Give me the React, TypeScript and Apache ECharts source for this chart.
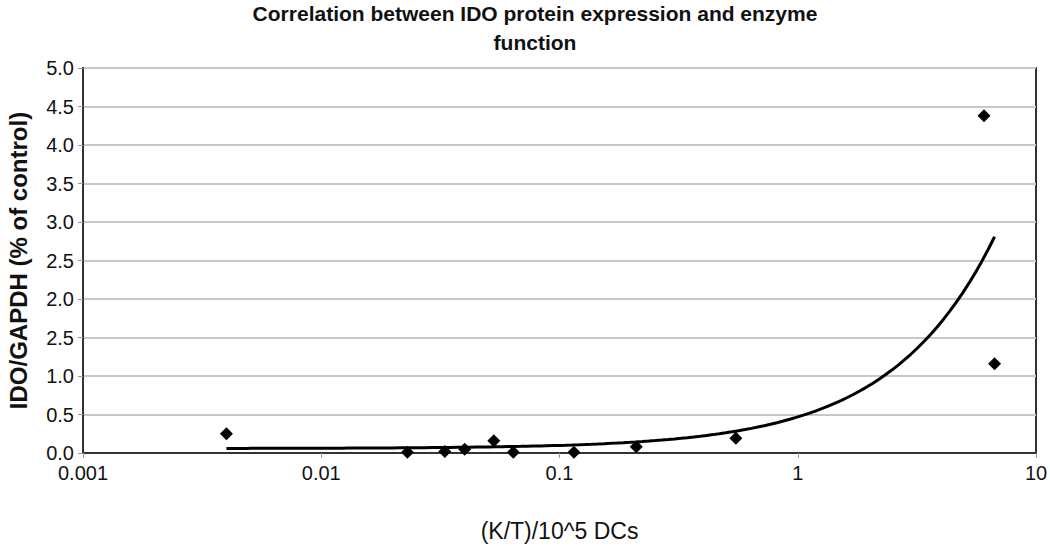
import React, { useEffect, useRef } from "react";
import * as echarts from "echarts";

const titleText = "Correlation between IDO protein expression and enzyme\nfunction";
const xAxisName = "(K/T)/10^5 DCs";
const yAxisName = "IDO/GAPDH (% of control)";

// measured points: x = (K/T)/10^5 DCs, y = IDO/GAPDH
const xValues = [0.004, 0.023, 0.033, 0.04, 0.053, 0.064, 0.115, 0.21, 0.55, 6.05, 6.7];
const yValues = [0.25, 0.01, 0.02, 0.05, 0.16, 0.01, 0.01, 0.08, 0.19, 4.38, 1.16];

const xTickLabels = ["0.001", "0.01", "0.1", "1", "10"];
// as printed in the original (the 1.5 tick reads "2.5")
const yTickLabels = ["0.0", "0.5", "1.0", "2.5", "2.0", "2.5", "3.0", "3.5", "4.0", "4.5", "5.0"];

const FONT = "'Liberation Sans', Arial, Helvetica, sans-serif";

function linearFit(xs: number[], ys: number[]) {
  const n = xs.length;
  const mx = xs.reduce((a, b) => a + b, 0) / n;
  const my = ys.reduce((a, b) => a + b, 0) / n;
  let sxy = 0;
  let sxx = 0;
  for (let i = 0; i < n; i++) {
    sxy += (xs[i] - mx) * (ys[i] - my);
    sxx += (xs[i] - mx) * (xs[i] - mx);
  }
  const slope = sxy / sxx;
  return { slope, intercept: my - slope * mx };
}

export default function App() {
  const ref = useRef<HTMLDivElement>(null);

  useEffect(() => {
    if (!ref.current) return;
    const chart = echarts.init(ref.current, undefined, { renderer: "svg" });

    const { slope, intercept } = linearFit(xValues, yValues);
    const xMin = Math.min(...xValues);
    const xMax = Math.max(...xValues);
    const steps = 120;
    const trend: number[][] = [];
    const lMin = Math.log10(xMin);
    const lMax = Math.log10(xMax);
    for (let i = 0; i <= steps; i++) {
      const x = Math.pow(10, lMin + ((lMax - lMin) * i) / steps);
      trend.push([x, intercept + slope * x]);
    }

    chart.setOption({
      animation: false,
      backgroundColor: "#ffffff",
      title: {
        text: titleText,
        left: 530,
        textAlign: "center",
        top: -6,
        textStyle: {
          fontFamily: FONT,
          fontSize: 21,
          fontWeight: "bold",
          color: "#111111",
          lineHeight: 29,
        },
      },
      grid: {
        left: 83,
        right: 14,
        top: 68,
        bottom: 93,
        show: true,
        borderColor: "#333333",
        borderWidth: 2,
        containLabel: false,
        outerBoundsMode: "none",
      },
      xAxis: {
        type: "log",
        logBase: 10,
        min: 0.001,
        max: 10,
        name: xAxisName,
        nameLocation: "middle",
        nameGap: 66,
        nameTextStyle: {
          fontFamily: FONT,
          fontSize: 23,
          color: "#111111",
          verticalAlign: "top",
        },
        axisLine: { show: true, lineStyle: { color: "#333333", width: 2 } },
        axisTick: { show: true, length: 5, lineStyle: { color: "#999999" } },
        minorTick: { show: false },
        splitLine: { show: false },
        axisLabel: {
          fontFamily: FONT,
          fontSize: 20,
          color: "#111111",
          margin: 10,
          formatter: (v: number) => {
            const idx = Math.round(Math.log10(v)) + 3;
            return xTickLabels[idx] ?? "";
          },
        },
      },
      yAxis: {
        type: "value",
        min: 0,
        max: 5,
        interval: 0.5,
        name: yAxisName,
        nameLocation: "middle",
        nameRotate: 90,
        nameGap: 53,
        nameTextStyle: {
          fontFamily: FONT,
          fontSize: 24,
          fontWeight: "bold",
          color: "#111111",
        },
        axisLine: { show: true, lineStyle: { color: "#333333", width: 2 } },
        axisTick: { show: true, length: 5, lineStyle: { color: "#999999" } },
        splitLine: { show: true, lineStyle: { color: "#c8c8c8", width: 2 } },
        axisLabel: {
          fontFamily: FONT,
          fontSize: 20,
          color: "#111111",
          margin: 9,
          formatter: (_v: number, i: number) => yTickLabels[i] ?? "",
        },
      },
      series: [
        {
          type: "line",
          data: trend,
          showSymbol: false,
          symbol: "none",
          smooth: false,
          lineStyle: { color: "#000000", width: 3 },
          silent: true,
          z: 2,
        },
        {
          type: "scatter",
          data: xValues.map((x, i) => [x, yValues[i]]),
          symbol: "diamond",
          symbolSize: 13,
          itemStyle: { color: "#000000", opacity: 1 },
          z: 3,
        },
      ],
    });

    return () => chart.dispose();
  }, []);

  return (
    <div
      ref={ref}
      style={{ position: "fixed", left: 0, top: 0, width: 1050, height: 546 }}
    />
  );
}
